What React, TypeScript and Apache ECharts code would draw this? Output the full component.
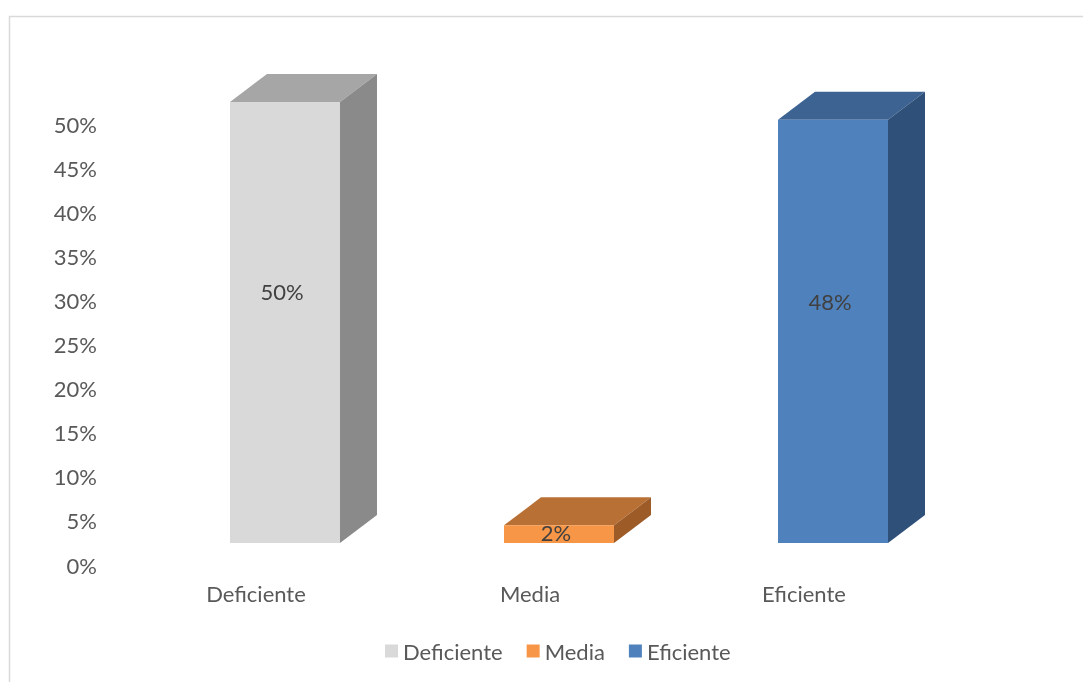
import React, { useEffect, useRef } from "react";
import * as echarts from "echarts";

const categories = ["Deficiente", "Media", "Eficiente"];
const values = [0.5, 0.02, 0.48];
const yTicks = { min: 0, max: 0.5, interval: 0.05 };

const FRONT = ["#d9d9d9", "#f79646", "#4f81bd"];
const TOP = ["#a6a6a6", "#b97035", "#3c6392"];
const SIDE = ["#8a8a8a", "#9d5b27", "#2f5079"];

const FONT = "Lato";
const TXT = "#595959";
const FS = 22;

export default function App() {
  const ref = useRef<HTMLDivElement>(null);
  useEffect(() => {
    const chart = echarts.init(ref.current!, null, { renderer: "svg" });
    const DX = 37, DY = -28, LIFT = 22, LOFF = -26, W = 110;
    const series = categories.map((name, i) => ({
      type: "custom",
      name,
      itemStyle: { color: FRONT[i] },
      data: [[i, values[i]]],
      renderItem: (params: any, api: any) => {
        const idx = api.value(0);
        const v = api.value(1);
        const base = api.coord([idx, 0]);
        const topP = api.coord([idx, v]);
        const L = base[0] + LOFF, R = L + W;
        const y0 = base[1] - LIFT, y1 = topP[1] - LIFT;
        const h = y0 - y1;
        return {
          type: "group",
          children: [
            { type: "polygon", shape: { points: [[L, y1], [R, y1], [R + DX, y1 + DY], [L + DX, y1 + DY]] }, style: { fill: TOP[i] } },
            { type: "polygon", shape: { points: [[R, y0], [R + DX, y0 + DY], [R + DX, y1 + DY], [R, y1]] }, style: { fill: SIDE[i] } },
            { type: "rect", shape: { x: L, y: y1, width: W, height: h }, style: { fill: FRONT[i] } },
            {
              type: "text",
              style: {
                text: Math.round(v * 100) + "%",
                x: L + W / 2 - 3,
                y: y0 - h * 0.57,
                align: "center",
                verticalAlign: "middle",
                fill: "#404040",
                font: `${FS}px ${FONT}`,
              },
            },
          ],
        };
      },
    }));
    chart.setOption({
      animation: false,
      textStyle: { fontFamily: FONT },
      graphic: [
        { type: "rect", shape: { x: 9.5, y: 16.5, width: 1090, height: 700 }, style: { fill: "none", stroke: "#d9d9d9", lineWidth: 1.5 } },
      ],
      grid: { left: 119, width: 822, top: 124, height: 441 },
      xAxis: {
        type: "category",
        data: categories,
        axisLine: { show: false },
        axisTick: { show: false },
        axisLabel: { color: TXT, fontSize: FS, fontFamily: FONT, margin: 17 },
      },
      yAxis: {
        type: "value",
        min: yTicks.min,
        max: yTicks.max,
        interval: yTicks.interval,
        splitLine: { show: false },
        axisLine: { show: false },
        axisTick: { show: false },
        axisLabel: {
          color: TXT,
          fontSize: FS,
          fontFamily: FONT,
          margin: 22,
          formatter: (v: number) => Math.round(v * 100) + "%",
        },
      },
      legend: {
        left: 380,
        top: 635,
        icon: "rect",
        itemWidth: 13,
        itemHeight: 13,
        itemGap: 24,
        textStyle: { color: TXT, fontSize: FS, fontFamily: FONT },
        data: categories,
      },
      series,
    });
    return () => chart.dispose();
  }, []);
  return <div ref={ref} style={{ position: "fixed", left: 0, top: 0, width: 1083, height: 682 }} />;
}
